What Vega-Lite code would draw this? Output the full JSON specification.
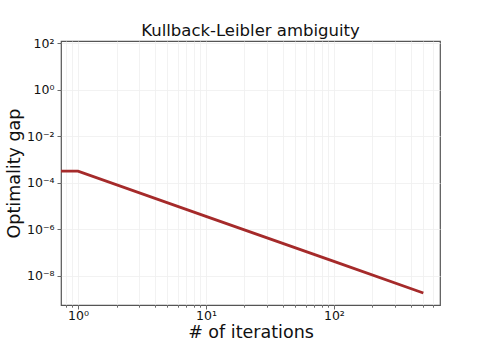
{
  "$schema": "https://vega.github.io/schema/vega-lite/v6.json",
  "width": 379,
  "height": 264,
  "autosize": {"type": "none"},
  "padding": {"left": 61, "top": 41, "right": 48, "bottom": 37},
  "background": "white",
  "config": {
    "font": "DejaVu Sans",
    "view": {"stroke": "#555555", "strokeWidth": 1.2},
    "axis": {"domain": false, "gridColor": "#efefef", "gridWidth": 0.8, "tickColor": "#444444", "labelColor": "#111111", "titleColor": "#111111", "labelFont": "DejaVu Sans", "titleFont": "DejaVu Sans", "titleFontWeight": "normal"}
  },
  "title": {"text": "Kullback-Leibler ambiguity", "fontSize": 16.5, "fontWeight": "normal", "font": "DejaVu Sans", "color": "#111111", "offset": -2},
  "data": {
    "values": [
      {"iter": 0.7, "gap": 3.1e-4},
      {"iter": 1, "gap": 3.1e-4},
      {"iter": 10, "gap": 3.5e-6},
      {"iter": 100, "gap": 4.1e-8},
      {"iter": 500, "gap": 1.78e-9}
    ]
  },
  "mark": {"type": "line", "color": "#a52a2a", "strokeWidth": 2.8, "clip": true},
  "encoding": {
    "x": {
      "field": "iter", "type": "quantitative",
      "scale": {"type": "log", "domain": [0.736, 675], "nice": false},
      "axis": {
        "title": "# of iterations", "titleFontSize": 17.5, "titleBaseline": "alphabetic", "titleY": 32,
        "values": [0.8,0.9,1,2,3,4,5,6,7,8,9,10,20,30,40,50,60,70,80,90,100,200,300,400,500,600],
        "labelExpr": "datum.value == 1 ? '10⁰' : datum.value == 10 ? '10¹' : datum.value == 100 ? '10²' : ''",
        "labelFontSize": 12.5, "labelBaseline": "alphabetic", "labelPadding": 10, "labelFlush": false, "labelOverlap": false,
        "tickSize": {"condition": {"test": "datum.value == 1 || datum.value == 10 || datum.value == 100", "value": 4}, "value": 2.2},
        "tickWidth": 0.8
      }
    },
    "y": {
      "field": "gap", "type": "quantitative",
      "scale": {"type": "log", "domain": [5.4e-10, 124], "nice": false},
      "axis": {
        "title": "Optimality gap", "titleFontSize": 17.5, "titlePadding": 3,
        "values": [1e-8, 1e-6, 1e-4, 1e-2, 1, 100],
        "labelExpr": "datum.value >= 50 ? '10²' : datum.value >= 0.5 ? '10⁰' : datum.value >= 5e-3 ? '10⁻²' : datum.value >= 5e-5 ? '10⁻⁴' : datum.value >= 5e-7 ? '10⁻⁶' : '10⁻⁸'",
        "labelFontSize": 12.5, "labelPadding": 3, "labelFlush": false, "labelOverlap": false,
        "tickSize": 4, "tickWidth": 0.8
      }
    }
  }
}
